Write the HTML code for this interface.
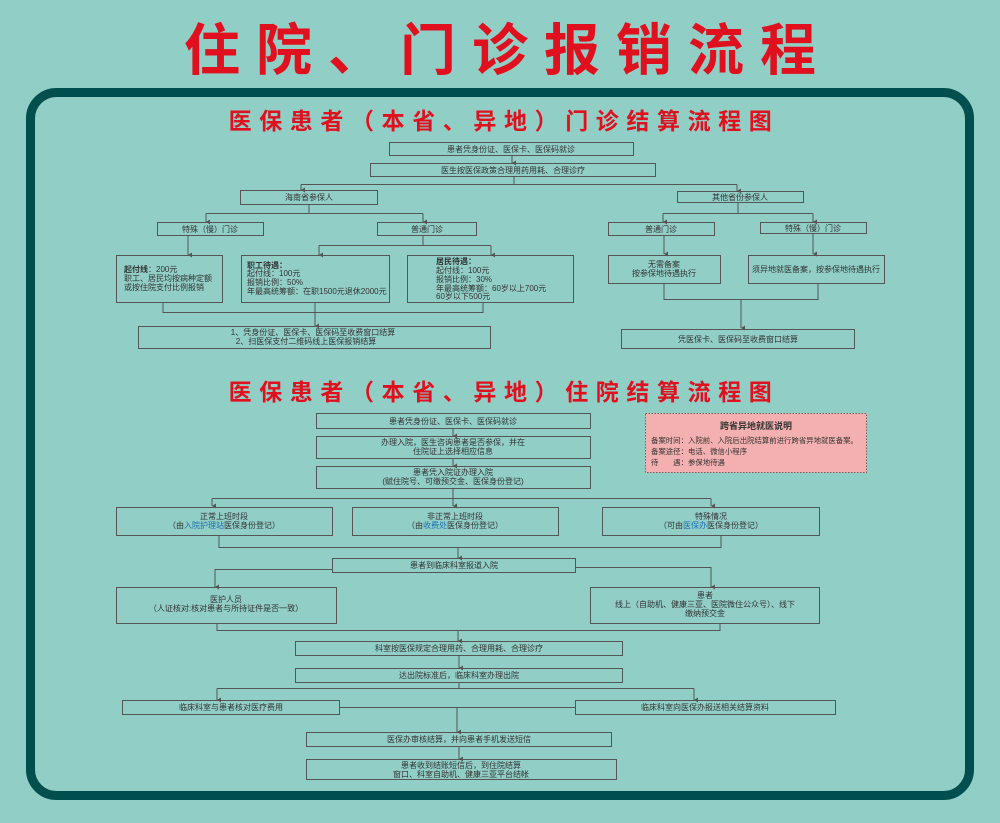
<!DOCTYPE html>
<html><head><meta charset="utf-8"><style>
html,body{margin:0;padding:0;background:#91cec5;}
svg{display:block;}
text{font-family:"Liberation Sans","Noto Sans CJK SC",sans-serif;fill:#333;font-size:8px;}
.b{fill:none;stroke:#555;stroke-width:1;}
.l{fill:none;stroke:#555;stroke-width:1;}
.t{fill:#e0101e;font-weight:bold;}
.bl{fill:#1a6fb5;}
</style></head><body>
<svg width="1000" height="823" viewBox="0 0 1000 823" xmlns="http://www.w3.org/2000/svg">
<defs><marker id="a" markerWidth="6" markerHeight="6" refX="3" refY="5" orient="auto" markerUnits="userSpaceOnUse"><path d="M0.5,1 L3,5 L5.5,1 Z" fill="#555"/></marker></defs>
<rect width="1000" height="823" fill="#91cec5"/>
<text x="508" y="70" text-anchor="middle" class="t" style="font-size:56px;letter-spacing:16px">住院、门诊报销流程</text>
<rect x="30.5" y="92.5" width="939" height="703" rx="26" fill="none" stroke="#004f4f" stroke-width="9"/>
<text x="504" y="129" text-anchor="middle" class="t" style="font-size:23px;letter-spacing:7.6px">医保患者（本省、异地）门诊结算流程图</text>
<text x="504" y="400" text-anchor="middle" class="t" style="font-size:23px;letter-spacing:7.6px">医保患者（本省、异地）住院结算流程图</text>

<!-- outpatient -->
<rect class="b" x="389.5" y="142.5" width="244" height="13"/>
<text x="511" y="152" text-anchor="middle">患者凭身份证、医保卡、医保码就诊</text>
<path class="l" d="M512 155.5 V163" marker-end="url(#a)"/>
<rect class="b" x="370.5" y="163.5" width="285" height="13"/>
<text x="513" y="173" text-anchor="middle">医生按医保政策合理用药用耗、合理诊疗</text>
<path class="l" d="M514 176.5 V184.5 M301 184.5 H737"/>
<path class="l" d="M301 184.5 V190" marker-end="url(#a)"/>
<path class="l" d="M737 184.5 V191" marker-end="url(#a)"/>
<rect class="b" x="240.5" y="190.5" width="137" height="14"/>
<text x="309" y="200" text-anchor="middle">海南省参保人</text>
<path class="l" d="M309 204.5 V213.5 M206 213.5 H423"/>
<path class="l" d="M206 213.5 V222" marker-end="url(#a)"/>
<path class="l" d="M423 213.5 V222" marker-end="url(#a)"/>
<rect class="b" x="157.5" y="222.5" width="106" height="13"/>
<text x="210" y="232" text-anchor="middle">特殊（慢）门诊</text>
<rect class="b" x="377.5" y="222.5" width="99" height="13"/>
<text x="427" y="232" text-anchor="middle">普通门诊</text>
<path class="l" d="M188 236 V255" marker-end="url(#a)"/>
<path class="l" d="M423 236 V245.5 M319 245.5 H491"/>
<path class="l" d="M319 245.5 V255" marker-end="url(#a)"/>
<path class="l" d="M491 245.5 V255" marker-end="url(#a)"/>
<rect class="b" x="116.5" y="255.5" width="106" height="47"/>
<text x="124" y="272"><tspan font-weight="bold">起付线</tspan>：200元</text>
<text x="124" y="281">职工、居民均按病种定额</text>
<text x="124" y="290">或按住院支付比例报销</text>
<rect class="b" x="241.5" y="255.5" width="148" height="47"/>
<text x="247" y="268" font-weight="bold">职工待遇：</text>
<text x="247" y="276">起付线：100元</text>
<text x="247" y="285">报销比例：50%</text>
<text x="247" y="294">年最高统筹额：在职1500元退休2000元</text>
<rect class="b" x="407.5" y="255.5" width="166" height="47"/>
<text x="436" y="264" font-weight="bold">居民待遇：</text>
<text x="436" y="273">起付线：100元</text>
<text x="436" y="282">报销比例：30%</text>
<text x="436" y="291">年最高统筹额：60岁以上700元</text>
<text x="436" y="299">60岁以下500元</text>
<path class="l" d="M163 303 V312.5 H483 V303"/>
<path class="l" d="M315 303 V326" marker-end="url(#a)"/>
<rect class="b" x="138.5" y="326.5" width="352" height="22"/>
<text x="313" y="335" text-anchor="middle">1、凭身份证、医保卡、医保码至收费窗口结算</text>
<text x="306" y="344" text-anchor="middle">2、扫医保支付二维码线上医保报销结算</text>

<rect class="b" x="677.5" y="191.5" width="126" height="11"/>
<text x="740" y="200" text-anchor="middle">其他省份参保人</text>
<path class="l" d="M738 202.5 V213.5 M663 213.5 H813"/>
<path class="l" d="M663 213.5 V222" marker-end="url(#a)"/>
<path class="l" d="M813 213.5 V222" marker-end="url(#a)"/>
<rect class="b" x="608.5" y="222.5" width="106" height="13"/>
<text x="661" y="232" text-anchor="middle">普通门诊</text>
<rect class="b" x="760.5" y="222.5" width="106" height="11"/>
<text x="813" y="231" text-anchor="middle">特殊（慢）门诊</text>
<path class="l" d="M664 236 V254" marker-end="url(#a)"/>
<path class="l" d="M813 234 V254" marker-end="url(#a)"/>
<rect class="b" x="608.5" y="255.5" width="112" height="28"/>
<text x="664" y="267" text-anchor="middle">无需备案</text>
<text x="664" y="276" text-anchor="middle">按参保地待遇执行</text>
<rect class="b" x="748.5" y="255.5" width="136" height="28"/>
<text x="816" y="272" text-anchor="middle">须异地就医备案，按参保地待遇执行</text>
<path class="l" d="M664 284 V299.5 H818 V284"/>
<path class="l" d="M741 299.5 V328" marker-end="url(#a)"/>
<rect class="b" x="621.5" y="329.5" width="233" height="19"/>
<text x="738" y="342" text-anchor="middle">凭医保卡、医保码至收费窗口结算</text>

<!-- inpatient -->
<rect class="b" x="316.5" y="413.5" width="274" height="15"/>
<text x="453" y="424" text-anchor="middle">患者凭身份证、医保卡、医保码就诊</text>
<path class="l" d="M453 429 V436" marker-end="url(#a)"/>
<rect class="b" x="316.5" y="436.5" width="274" height="22"/>
<text x="453" y="445" text-anchor="middle">办理入院，医生咨询患者是否参保，并在</text>
<text x="453" y="454" text-anchor="middle">住院证上选择相应信息</text>
<path class="l" d="M453 459 V466" marker-end="url(#a)"/>
<rect class="b" x="316.5" y="466.5" width="274" height="22"/>
<text x="453" y="475" text-anchor="middle">患者凭入院证办理入院</text>
<text x="453" y="484" text-anchor="middle">(赋住院号、可缴预交金、医保身份登记)</text>
<path class="l" d="M453 489 V498.5 M212 498.5 H711"/>
<path class="l" d="M212 498.5 V506" marker-end="url(#a)"/>
<path class="l" d="M453 498.5 V506" marker-end="url(#a)"/>
<path class="l" d="M711 498.5 V506" marker-end="url(#a)"/>
<rect class="b" x="116.5" y="507.5" width="216" height="28"/>
<text x="224" y="519" text-anchor="middle">正常上班时段</text>
<text x="224" y="528" text-anchor="middle">（由<tspan class="bl">入院护理站</tspan>医保身份登记）</text>
<rect class="b" x="352.5" y="507.5" width="206" height="28"/>
<text x="455" y="519" text-anchor="middle">非正常上班时段</text>
<text x="455" y="528" text-anchor="middle">（由<tspan class="bl">收费处</tspan>医保身份登记）</text>
<rect class="b" x="602.5" y="507.5" width="217" height="28"/>
<text x="711" y="519" text-anchor="middle">特殊情况</text>
<text x="711" y="528" text-anchor="middle">（可由<tspan class="bl">医保办</tspan>医保身份登记）</text>
<path class="l" d="M219 536 V547.5 H721 V536"/>
<path class="l" d="M458 547.5 V558" marker-end="url(#a)"/>
<rect class="b" x="332.5" y="558.5" width="243" height="14"/>
<text x="454" y="568" text-anchor="middle">患者到临床科室报道入院</text>
<path class="l" d="M332 569.5 H215 V587" marker-end="url(#a)"/>
<path class="l" d="M576 567.5 H711 V587" marker-end="url(#a)"/>
<rect class="b" x="116.5" y="587.5" width="220" height="36"/>
<text x="226" y="602" text-anchor="middle">医护人员</text>
<text x="226" y="611" text-anchor="middle">（人证核对:核对患者与所持证件是否一致）</text>
<rect class="b" x="590.5" y="587.5" width="229" height="36"/>
<text x="705" y="598" text-anchor="middle">患者</text>
<text x="705" y="607" text-anchor="middle">线上（自助机、健康三亚、医院微住公众号）、线下</text>
<text x="705" y="616" text-anchor="middle">缴纳预交金</text>
<path class="l" d="M217 624 V630.5 H720 V624"/>
<path class="l" d="M458 630.5 V641" marker-end="url(#a)"/>
<rect class="b" x="295.5" y="641.5" width="327" height="14"/>
<text x="459" y="651" text-anchor="middle">科室按医保规定合理用药、合理用耗、合理诊疗</text>
<path class="l" d="M459 656 V668" marker-end="url(#a)"/>
<rect class="b" x="295.5" y="668.5" width="327" height="14"/>
<text x="459" y="678" text-anchor="middle">达出院标准后，临床科室办理出院</text>
<path class="l" d="M459 683 V688.5 M217 688.5 H694"/>
<path class="l" d="M217 688.5 V700" marker-end="url(#a)"/>
<path class="l" d="M694 688.5 V700" marker-end="url(#a)"/>
<rect class="b" x="122.5" y="700.5" width="217" height="14"/>
<text x="231" y="710" text-anchor="middle">临床科室与患者核对医疗费用</text>
<rect class="b" x="575.5" y="700.5" width="260" height="14"/>
<text x="705" y="710" text-anchor="middle">临床科室向医保办报送相关结算资料</text>
<path class="l" d="M340 707.5 H575 M457 707.5 V732" marker-end="url(#a)"/>
<rect class="b" x="306.5" y="732.5" width="305" height="14"/>
<text x="459" y="742" text-anchor="middle">医保办审核结算，并向患者手机发送短信</text>
<path class="l" d="M459 747 V759" marker-end="url(#a)"/>
<rect class="b" x="306.5" y="759.5" width="310" height="20"/>
<text x="461" y="768" text-anchor="middle">患者收到结账短信后，到住院结算</text>
<text x="461" y="777" text-anchor="middle">窗口、科室自助机、健康三亚平台结帐</text>

<rect x="645.5" y="413.5" width="221" height="59" fill="#f4b0b0" stroke="#8a5a5a" stroke-width="1" stroke-dasharray="1.5,1.5"/>
<text x="756" y="429" text-anchor="middle" font-weight="bold" style="font-size:9px">跨省异地就医说明</text>
<text x="651" y="443" style="font-size:7.4px">备案时间：入院前、入院后出院结算前进行跨省异地就医备案。</text>
<text x="651" y="454" style="font-size:7.4px">备案途径：电话、微信小程序</text>
<text x="651" y="465" style="font-size:7.4px">待　　遇：参保地待遇</text>
</svg>
</body></html>
